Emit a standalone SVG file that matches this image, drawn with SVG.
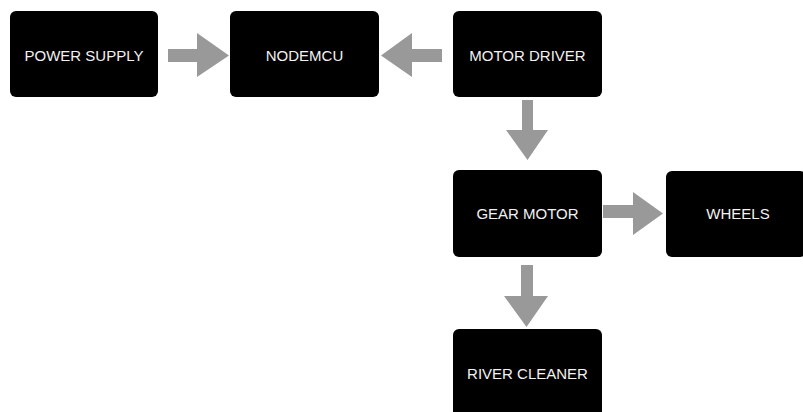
<svg xmlns="http://www.w3.org/2000/svg" width="803" height="412" viewBox="0 0 803 412">
<style>
.box{fill:#000;}
.lbl{fill:#f2f2f2;font-family:"Liberation Sans",Arial,sans-serif;font-size:15px;text-anchor:middle;}
.arr{fill:#999;}
</style>
<rect width="803" height="412" fill="#fff"/>
<g id="connectors">
<polygon class="arr" points="168,49 197,49 197,33 229,55.5 197,77 197,62 168,62"/>
<polygon class="arr" points="442,49 412,49 412,33 381,55.5 412,77 412,62 442,62"/>
<polygon class="arr" points="522,100 533,100 533,130 548,130 527.5,160 506,130 522,130"/>
<polygon class="arr" points="603,205 633,205 633,192 663,213.5 633,235 633,218 603,218"/>
<polygon class="arr" points="521,265 533,265 533,296 548,296 526.5,327 504,296 521,296"/>
</g>
<g id="power-supply"><rect class="box" x="10" y="11" width="148" height="86" rx="6"/><text class="lbl" x="84" y="61">POWER SUPPLY</text></g>
<g id="nodemcu"><rect class="box" x="230" y="11" width="149" height="86" rx="6"/><text class="lbl" x="304.5" y="61">NODEMCU</text></g>
<g id="motor-driver"><rect class="box" x="453" y="11" width="149" height="86" rx="6"/><text class="lbl" x="527.5" y="61">MOTOR DRIVER</text></g>
<g id="gear-motor"><rect class="box" x="453" y="170" width="149" height="87" rx="6"/><text class="lbl" x="527.5" y="218.5">GEAR MOTOR</text></g>
<g id="wheels"><rect class="box" x="666" y="171" width="140" height="86" rx="6"/><text class="lbl" x="738" y="218.5">WHEELS</text></g>
<g id="river-cleaner"><rect class="box" x="453" y="329" width="149" height="90" rx="6"/><text class="lbl" x="527.5" y="378.5">RIVER CLEANER</text></g>
</svg>
